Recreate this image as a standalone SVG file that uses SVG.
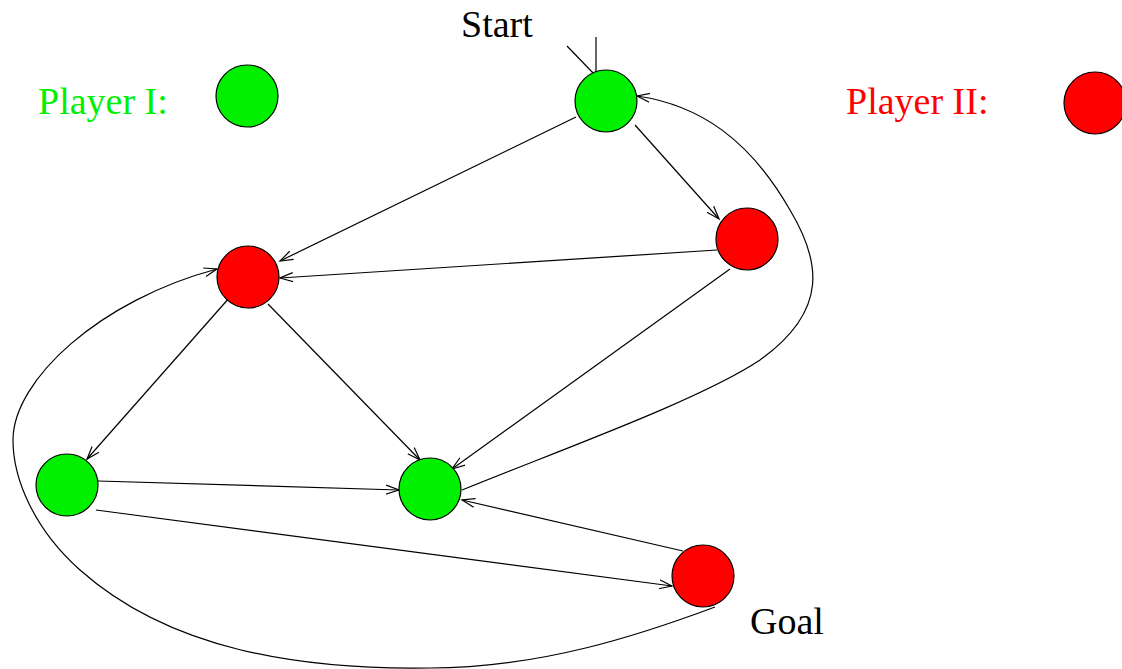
<svg xmlns="http://www.w3.org/2000/svg" width="1122" height="669" viewBox="0 0 1122 669">
<style>
.n{stroke:#000;stroke-width:1.2}
.g{fill:#00f000}
.r{fill:#ff0000}
.e{fill:none;stroke:#000;stroke-width:1.2}
.t{font-family:"Liberation Serif","Times New Roman",serif;font-size:38px}
</style>
<defs>
<marker id="a" markerUnits="userSpaceOnUse" markerWidth="16" markerHeight="12" refX="13" refY="5" orient="auto" viewBox="0 0 16 10">
<path d="M0,0.5 L13,5 L0,9.5" fill="none" stroke="#000" stroke-width="1.2"/>
</marker>
</defs>
<rect width="1122" height="669" fill="#fff"/>
<g id="legend">
<text class="t" x="38" y="114" fill="#00f000">Player I:</text>
<circle class="n g" cx="247" cy="96" r="31"/>
<text class="t" x="846" y="114" fill="#ff0000">Player II:</text>
<circle class="n r" cx="1095" cy="103" r="31"/>
</g>
<g id="connectors">
<line class="e" x1="596" y1="37" x2="596" y2="77"/>
<line class="e" x1="567" y1="46" x2="595" y2="75"/>
<line class="e" marker-end="url(#a)" x1="576" y1="117" x2="280" y2="261"/>
<line class="e" marker-end="url(#a)" x1="635" y1="125" x2="719" y2="219"/>
<line class="e" marker-end="url(#a)" x1="717" y1="250" x2="280" y2="278"/>
<line class="e" marker-end="url(#a)" x1="230" y1="297" x2="87" y2="459"/>
<line class="e" marker-end="url(#a)" x1="268" y1="304" x2="420" y2="460"/>
<line class="e" marker-end="url(#a)" x1="730" y1="269" x2="452" y2="469"/>
<line class="e" marker-end="url(#a)" x1="98" y1="481" x2="399" y2="490"/>
<line class="e" marker-end="url(#a)" x1="96" y1="510" x2="672" y2="586"/>
<line class="e" marker-end="url(#a)" x1="683" y1="551" x2="462" y2="500"/>
<path class="e" marker-end="url(#a)" d="M462,490 C560,450 700,400 760,360 C830,310 820,260 790,210 C750,140 700,105 637,96"/>
<path class="e" marker-end="url(#a)" d="M715,607 C640,635 540,668 430,668 C300,670 170,650 80,570 C35,530 13,480 13,440 C13,380 100,300 217,269"/>
</g>
<g id="start">
<circle class="n g" cx="606" cy="101" r="31"/>
<text class="t" x="461" y="37" fill="#000">Start</text>
</g>
<g id="p2a"><circle class="n r" cx="747" cy="239" r="31"/></g>
<g id="p2b"><circle class="n r" cx="248" cy="277" r="31"/></g>
<g id="p1a"><circle class="n g" cx="67" cy="485" r="31"/></g>
<g id="p1b"><circle class="n g" cx="430" cy="489" r="31"/></g>
<g id="goal">
<circle class="n r" cx="703" cy="576" r="31"/>
<text class="t" x="750" y="634" fill="#000">Goal</text>
</g>
</svg>
